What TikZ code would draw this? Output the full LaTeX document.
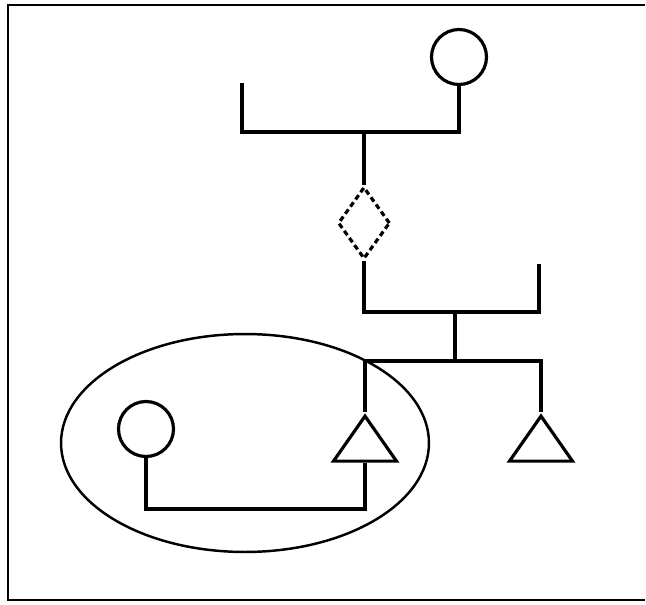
\documentclass[tikz,border=0pt]{standalone}
\usetikzlibrary{shapes.geometric}
\tikzset{
  line/.style={draw=black,line width=1.8pt},
  female/.style={circle,line,minimum size=1.1cm,inner sep=0pt},
  male/.style={isosceles triangle,isosceles triangle stretches,shape border rotate=90,line,minimum width=1.26cm,minimum height=0.9cm,inner sep=0pt},
  unknown/.style={diamond,line,dash pattern=on 3pt off 2pt,minimum width=1.04cm,minimum height=1.44cm,inner sep=0pt},
  group/.style={ellipse,draw=black,line width=1.4pt,minimum width=7.36cm,minimum height=4.36cm,inner sep=0pt},
}
\begin{document}
\begin{tikzpicture}[x=0.02cm,y=-0.02cm]
  \useasboundingbox (0,0) rectangle (646,605);
  \draw[line width=1.6pt] (645,5) -- (8,5) -- (8,600) -- (645,600);
  % top couple
  \coordinate (f1) at (242,83);
  \node[female] (m1) at (459,57) {};
  \coordinate (u1) at (364,132);
  \draw[line] (f1) |- (u1) -| (m1);
  \node[unknown] (d1) at (364,223) {};
  \draw[line] (u1) -- (d1);
  % second couple
  \coordinate (u2) at (364,312);
  \coordinate (f2) at (539,264);
  \draw[line] (d1) -- (u2) -| (f2);
  \coordinate (u3) at (455,312);
  \coordinate (u4) at (455,361);
  \draw[line] (u3) -- (u4);
  % children
  \node[male,anchor=apex] (t1) at (365,412) {};
  \node[male,anchor=apex] (t2) at (541,412) {};
  \draw[line] (t1) |- (u4) -| (t2);
  % grouped family
  \node[female] (m2) at (146,429) {};
  \coordinate (u5) at (256,509);
  \draw[line] (t1) |- (u5) -| (m2);
  \node[group] (g1) at (245,443) {};
\end{tikzpicture}
\end{document}
